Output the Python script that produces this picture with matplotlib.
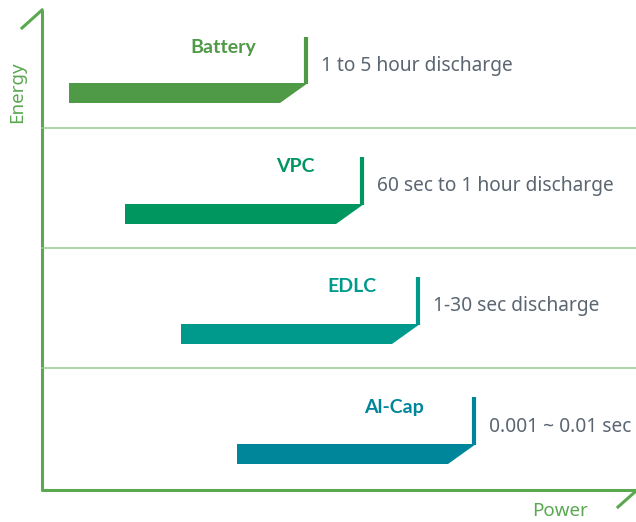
import matplotlib.pyplot as plt
from matplotlib.patches import Polygon

plt.rcParams['font.family'] = ['Noto Sans', 'DejaVu Sans']

# schematic data (chart units: x = power, y = energy, y grows downward like the picture)
names = ["Battery", "VPC", "EDLC", "Al-Cap"]
discharge = ["1 to 5 hour discharge", "60 sec to 1 hour discharge",
             "1-30 sec discharge", "0.001 ~ 0.01 sec"]
colors = ["#4f9a46", "#00965f", "#009a8c", "#00869a"]
bar_start = [69, 125, 181, 237]
bar_end = [308, 364, 420, 476]
bar_top = [83, 204, 324, 444]
tick_top = [37, 157, 277, 397]
label_x = [223, 295, 352, 394]
sep_y = [128, 248, 368]

axis_green = "#5aa850"
sep_green = "#93cc8c"
text_gray = "#5b6672"

fig = plt.figure(figsize=(6.36, 5.22), dpi=100)
ax = fig.add_axes([0, 0, 1, 1])
ax.set_xlim(0, 636)
ax.set_ylim(522, 0)
ax.axis("off")

# axes with little arrow strokes
ax.plot([42, 42, 636], [10, 490, 490], color=axis_green, lw=2.2, solid_capstyle="butt")
ax.plot([22, 42], [28, 10], color=axis_green, lw=2.2)
ax.plot([618, 636], [507, 491], color=axis_green, lw=2.2)
ax.text(17, 92, "Energy", rotation=90, ha="center", va="center",
        color=axis_green, fontsize=13.5)
ax.text(560, 511, "Power", ha="center", va="center", color=axis_green, fontsize=13.5)

for y in sep_y:
    ax.plot([42, 636], [y, y], color=sep_green, lw=1.1)

for i in range(len(names)):
    x0, x1, yt = bar_start[i], bar_end[i], bar_top[i]
    h = 20
    poly = Polygon([(x0, yt), (x1, yt), (x1 - 28, yt + h), (x0, yt + h)],
                   closed=True, facecolor=colors[i], edgecolor="none")
    ax.add_patch(poly)
    ax.plot([x1 - 2.5, x1 - 2.5], [tick_top[i], yt + 1], color=colors[i], lw=3,
            solid_capstyle="butt")
    ax.text(label_x[i], tick_top[i] + 10, names[i], ha="center", va="center",
            color=colors[i], fontsize=14, fontweight="bold",
            family=["Lato", "DejaVu Sans"])
    ax.text(x1 + 13, yt - 17.5, discharge[i], ha="left", va="center",
            color=text_gray, fontsize=13.8)

fig.savefig("out.png", dpi=100)
